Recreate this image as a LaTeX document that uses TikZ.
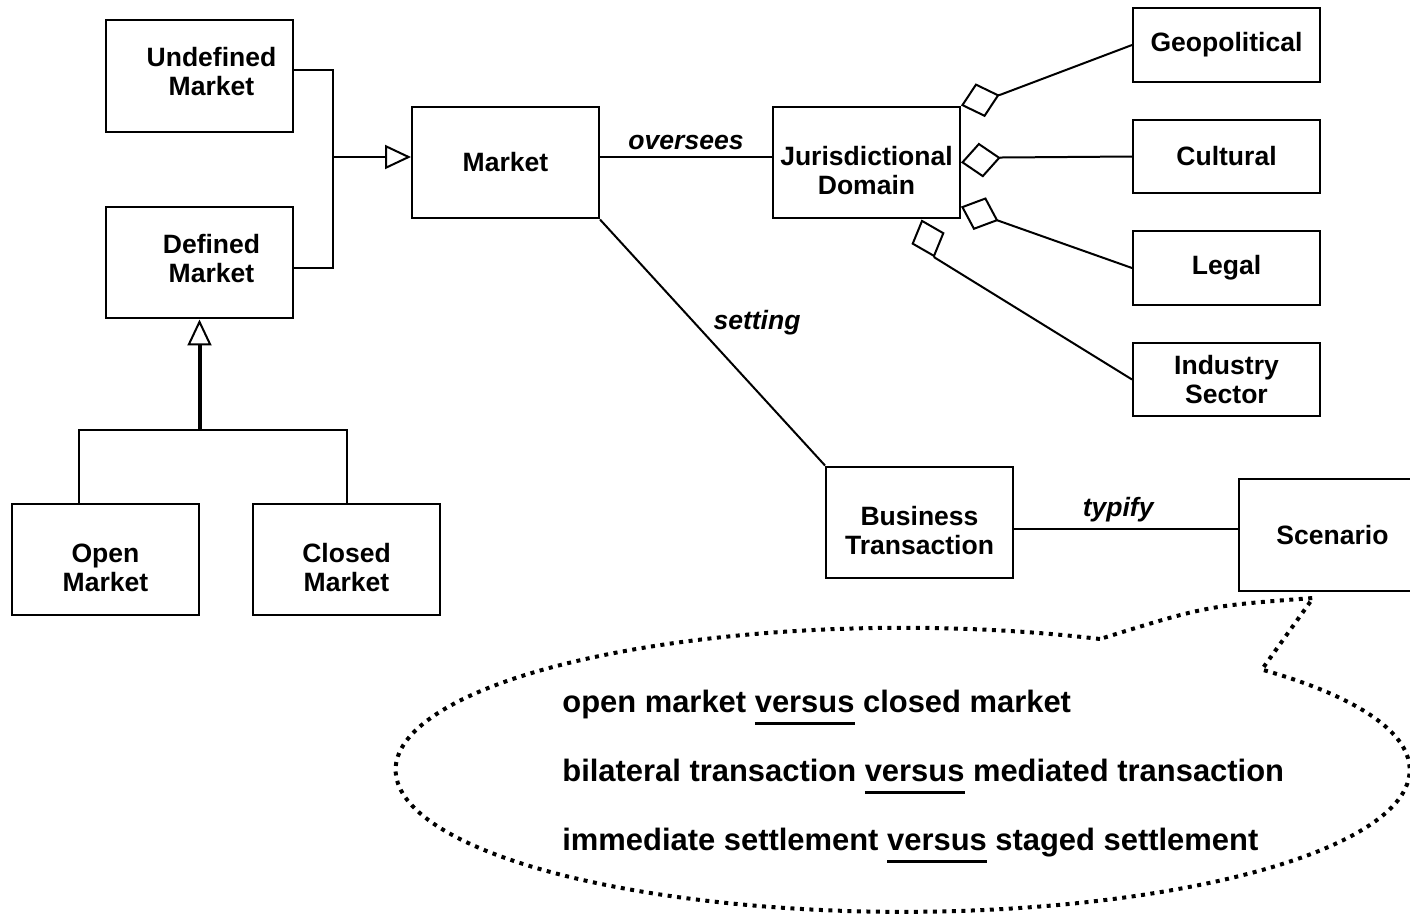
\documentclass[tikz,border=0pt]{standalone}
\usepackage{fontspec}
\setmainfont{Liberation Sans}
\usetikzlibrary{arrows.meta,calc,positioning}

\def\boxwidth{3.74cm}
\def\boxheight{2.24cm}
\def\attrheight{1.48cm}
\newcommand\vsline[1]{\setbox0\hbox{#1}\rlap{\rule[-0.26cm]{\wd0}{0.06cm}}#1}

\tikzstyle{cls}  = [draw, line width=0.04cm, minimum width=\boxwidth,
                    minimum height=\boxheight, inner sep=0pt, align=center,
                    font=\fontsize{15.1}{16.5}\selectfont\bfseries]
\tikzstyle{attr} = [cls, minimum height=\attrheight]
\tikzstyle{low}  = [text height=1.29cm]
\tikzstyle{high} = [text depth=0.18cm]
\tikzstyle{link} = [line width=0.04cm]
\tikzstyle{role} = [inner sep=0pt, font=\fontsize{15.1}{16.5}\selectfont\bfseries\itshape]
\tikzstyle{pair} = [anchor=base west, inner sep=0pt, font=\fontsize{17.6}{20}\selectfont\bfseries]
\tikzset{gen/.style={link, -{Triangle[open, length=0.52cm, width=0.48cm, line width=0.04cm]}},
         agg/.style={link, {Diamond[open, length=0.8cm, width=0.7cm, line width=0.04cm]}-},
         note/.style={line width=0.08cm, dash pattern=on 0.08cm off 0.11cm}
}

\begin{document}
\begin{tikzpicture}[x=0.02cm, y=-0.02cm]
    \useasboundingbox (0,0) rectangle (1410,913);

    % Market hierarchy
    \node[cls, high] (undef)  at (199.5,76)    {\hspace*{.48cm}Undefined\\\hspace*{.48cm}Market};
    \node[cls, high] (defd)   at (199.5,262.5) {\hspace*{.48cm}Defined\\\hspace*{.48cm}Market};
    \node[cls, low]  (open)   at (105.5,559.5) {Open\\Market};
    \node[cls, low]  (closed) at (346.5,559.5) {Closed\\Market};
    \node[cls]       (market) at (505.5,162.5) {Market};

    \coordinate (gjoin) at (333,157);
    \draw[link] ([yshift=.12cm]undef.east) -| (gjoin) |- ([yshift=-.11cm]defd.east);
    \draw[gen] (gjoin) -- (gjoin -| market.west);

    \coordinate (sjoin) at (199.5,430);
    \draw[link] ([xshift=-.53cm]open.north) |- (sjoin) -| (closed.north);
    \draw[gen, line width=0.08cm] (sjoin) -- (defd.south);

    % Jurisdiction and its parts
    \node[cls, low] (jur)      at (866.5,162.5)  {Jurisdictional\\Domain};
    \node[attr]     (geo)      at (1226.5,45)    {Geopolitical};
    \node[attr]     (cult)     at (1226.5,156.5) {Cultural};
    \node[attr]     (legal)    at (1226.5,268)   {Legal};
    \node[attr]     (industry) at (1226.5,379.5) {Industry\\Sector};

    \coordinate (mo) at ([yshift=.11cm]market.east);
    \draw[link] (mo) -- (mo -| jur.west) node[midway, role, above=.12cm] {oversees};

    \draw[agg] (jur.north east) -- ++(40,-11) -- (geo.west);
    \draw[agg] (jur.east) -- ++(41,-5) -- (cult.west);
    \draw[agg] (jur.-25) -- ++(37,14) -- (legal.west);
    \draw[agg] (jur.-46) -- ++(13,38) -- (industry.west);

    % Transaction and scenario
    \node[cls, low] (business) at (919.5,522.5) {Business\\Transaction};
    \node[cls]      (scenario) at (1332.5,535)  {Scenario};

    \draw[link] (market.south east) -- (business.north west)
          node[pos=.5, role, anchor=south west, yshift=.14cm] {setting};
    \coordinate (bt) at ([yshift=-.13cm]business.east);
    \draw[link] (bt) -- (bt -| scenario.west) node[pos=.465, role, above=.12cm] {typify};

    % Note bubble
    \draw[note] (1100,639) arc[start angle=-67.1, end angle=-404.9, x radius=507, y radius=142]
          -- (1313,598) .. controls (1206,606) .. (1100,639);
    \foreach \lhs/\rhs [count=\i] in {open market/closed market,
                                      bilateral transaction/mediated transaction,
                                      immediate settlement/staged settlement}
        \node[pair] (pair\i) at (562,{643+69*\i}) {\lhs\ \vsline{versus} \rhs};
\end{tikzpicture}
\end{document}
